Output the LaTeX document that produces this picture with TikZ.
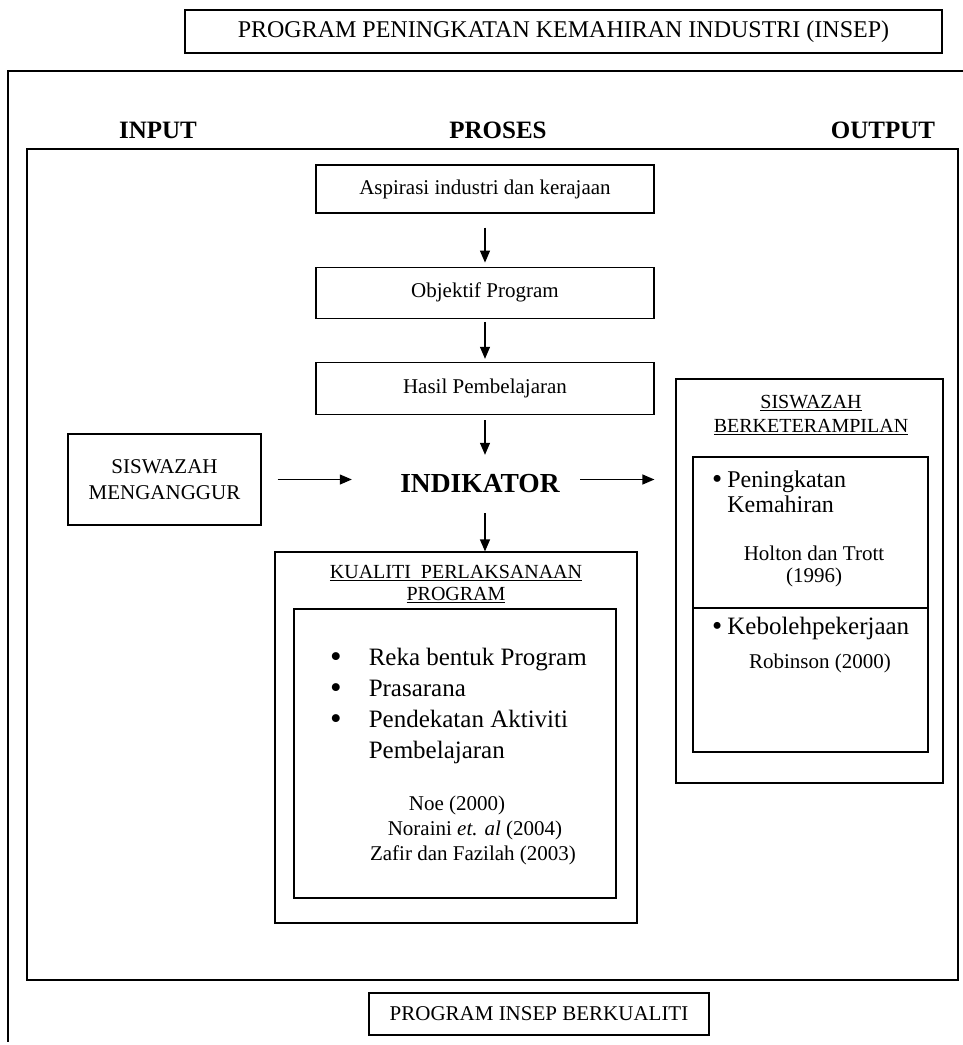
\documentclass[tikz,border=0pt]{standalone}
\usepackage{fontspec}
\setmainfont{Liberation Serif}
\usetikzlibrary{positioning, arrows.meta}

\newcommand{\fsz}[2]{\fontsize{#1}{#2}\selectfont}
\newcommand{\bul}[1]{\raisebox{-1.5pt}{\fsz{#1}{#1}\textbullet}}

\begin{document}
\begin{tikzpicture}[
x=1pt, y=-1pt,
node distance=40pt,
box/.style={draw, line width=1.2pt, inner sep=0pt},
frame/.style={line width=1.2pt},
arr/.style={-{Triangle[length=12pt,width=10pt]}, line width=1.2pt},
txt/.style={font=\fsz{21}{25}},
head/.style={font=\bfseries\fsz{25}{29}}
]
\useasboundingbox (0,0) rectangle (963,1045);

% Frames
\draw[frame] (963,71) -- (8,71) -- (8,1042);
\draw[frame] (27,149) rectangle (958,980);

% Nodes
\node[box, font=\fsz{24}{28}, minimum width=757pt, minimum height=43pt] (title) at (563.5,31.5) {PROGRAM PENINGKATAN KEMAHIRAN INDUSTRI (INSEP)};
\node[head] (input) at (158,130) {INPUT};
\node[head] (proses) at (498,130) {PROSES};
\node[head] (output) at (883,130) {OUTPUT};

\node[box, txt, minimum width=338pt, minimum height=48pt] (aspirasi) at (485,189) {Aspirasi industri dan kerajaan};
\node[box, txt, minimum width=338pt, minimum height=51pt, below=53pt of aspirasi] (objektif) {Objektif Program};
\node[box, txt, minimum width=338pt, minimum height=52pt, below=43pt of objektif] (hasil) {Hasil Pembelajaran};
\node[font=\bfseries\fsz{27.5}{31}, inner sep=0pt, minimum width=200pt, minimum height=58pt] (indikator) at (480,484) {INDIKATOR};

\node[box, font=\fsz{21}{26}, align=center, minimum width=193pt, minimum height=91pt] (menganggur) at (164.5,479.5) {SISWAZAH\\MENGANGGUR};

\node[box, minimum width=362pt, minimum height=371pt] (kualiti) at (456,737.5) {};
\node[font=\fsz{20}{22}, align=center] (kualititajuk) at (456,584) {\underline{KUALITI\ \ PERLAKSANAAN}\\\underline{PROGRAM}};
\node[box, minimum width=322pt, minimum height=289pt] (aspek) at (455,753.5) {};
\node[font=\fsz{25}{31}, inner sep=0pt, anchor=west] (aspeklist) at (330,706) {\begin{tabular}{@{}l@{\hspace{27pt}}l@{}}
\bul{33} & Reka bentuk Program\\
\bul{33} & Prasarana\\
\bul{33} & Pendekatan Aktiviti\\
 & Pembelajaran
\end{tabular}};
\node[txt] (noe) at (457,805) {Noe (2000)};
\node[txt] (noraini) at (475,830) {Noraini \textit{et. al} (2004)};
\node[txt] (zafir) at (473,855) {Zafir dan Fazilah (2003)};

\node[box, minimum width=267pt, minimum height=404pt] (berket) at (809.5,581) {};
\node[font=\fsz{20}{24}, align=center] (berkettajuk) at (811,415) {\underline{SISWAZAH}\\\underline{BERKETERAMPILAN}};
\node[box, minimum width=235pt, minimum height=295pt] (kesan) at (810.5,604.5) {};
\draw[frame] (kesan.west |- 0,608) -- (kesan.east |- 0,608);
\node[font=\fsz{24}{25}, inner sep=0pt, anchor=west] (kemahiran) at (712,494.5) {\begin{tabular}{@{}l@{\hspace{5pt}}l@{}}
\bul{29} & Peningkatan\\
 & Kemahiran
\end{tabular}};
\node[font=\fsz{21}{22}, align=center] (holton) at (814,566) {Holton dan Trott\\(1996)};
\node[font=\fsz{25}{25}, inner sep=0pt, anchor=west] (kerja) at (712,628) {\bul{29}\hspace{5pt}Kebolehpekerjaan};
\node[txt] (robinson) at (820,663) {Robinson (2000)};

\node[box, txt, minimum width=340pt, minimum height=42pt] (berkualiti) at (539,1014) {PROGRAM INSEP BERKUALITI};

% Arrows
\draw[arr, shorten <=14pt, shorten >=4pt] (aspirasi) -- (objektif);
\draw[arr, shorten <=3pt, shorten >=3pt] (objektif) -- (hasil);
\draw[arr, shorten <=5pt] (hasil.south) -- (hasil.south |- indikator.north);
\draw[arr] (hasil.south |- indikator.south) -- (hasil.south |- kualiti.north);
\draw[arr, shorten <=16pt, shorten >=28pt] (menganggur.east) -- (menganggur.east -| indikator.west);
\draw[arr, shorten >=21pt] (menganggur.east -| indikator.east) -- (menganggur.east -| berket.west);
\end{tikzpicture}
\end{document}
